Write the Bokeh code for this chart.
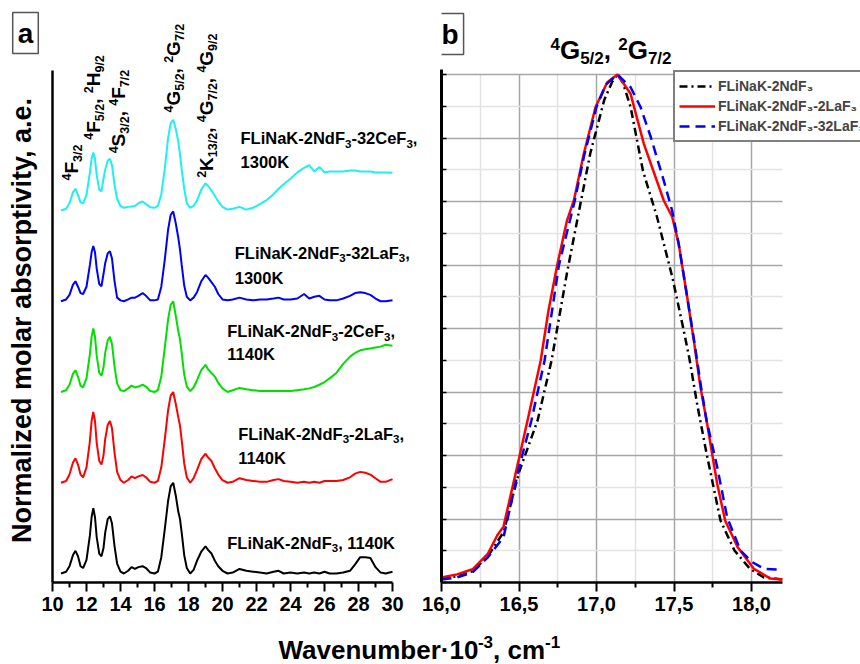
import math
import re
from bokeh.plotting import figure
from bokeh.models import Label, Legend, LegendItem, FixedTicker, Range1d
from bokeh.layouts import row, column
from bokeh.embed import file_html
from bokeh.resources import INLINE

# ---------------- data: panel a (stacked spectra) ----------------
WN_A = [
    10.5, 10.8, 11.0, 11.2, 11.35, 11.5, 11.65, 11.8, 12.0, 12.2,
    12.3, 12.4, 12.5, 12.6, 12.75, 12.88, 13.0, 13.1, 13.25, 13.38,
    13.5, 13.65, 13.8, 14.0, 14.2, 14.45, 14.65, 14.85, 15.05, 15.3,
    15.5, 15.75, 16.0, 16.2, 16.4, 16.6, 16.8, 16.95, 17.1, 17.25,
    17.4, 17.5, 17.6, 17.75, 17.9, 18.1, 18.3, 18.5, 18.75, 19.0,
    19.15, 19.35, 19.55, 19.75, 20.0, 20.3, 20.6, 21.0, 21.4, 21.8,
    22.2, 22.6, 23.0, 23.3, 23.6, 24.0, 24.4, 24.8, 25.1, 25.4,
    25.7, 26.0, 26.3, 26.7, 27.1, 27.5, 27.8, 28.1, 28.4, 28.7,
    29.0, 29.3, 29.6, 30.0,
]
ABS_NDF3 = [
    0.00, 0.02, 0.08, 0.20, 0.25, 0.19, 0.08, 0.06, 0.15, 0.42,
    0.62, 0.72, 0.62, 0.40, 0.22, 0.19, 0.28, 0.45, 0.60, 0.63,
    0.55, 0.30, 0.11, 0.02, 0.00, 0.03, 0.07, 0.05, 0.07, 0.08,
    0.06, 0.01, 0.00, 0.02, 0.18, 0.48, 0.80, 0.96, 1.00, 0.86,
    0.68, 0.60, 0.45, 0.20, 0.06, 0.00, 0.04, 0.14, 0.24, 0.30,
    0.26, 0.22, 0.14, 0.08, 0.03, 0.00, 0.01, 0.05, 0.03, 0.02,
    0.01, 0.00, 0.02, 0.03, 0.00, 0.01, 0.00, 0.01, 0.00, 0.01,
    0.00, 0.02, 0.00, 0.00, 0.01, 0.03, 0.10, 0.18, 0.18, 0.17,
    0.07, 0.01, 0.00, 0.02,
]
ABS_2LAF3 = [
    0.00, 0.02, 0.09, 0.22, 0.27, 0.20, 0.09, 0.06, 0.17, 0.46,
    0.68, 0.78, 0.68, 0.44, 0.24, 0.20, 0.30, 0.48, 0.64, 0.68,
    0.60, 0.33, 0.12, 0.03, 0.00, 0.03, 0.07, 0.05, 0.07, 0.085,
    0.06, 0.01, 0.00, 0.02, 0.17, 0.47, 0.80, 0.96, 1.00, 0.87,
    0.72, 0.63, 0.47, 0.21, 0.06, 0.00, 0.05, 0.14, 0.26, 0.32,
    0.28, 0.24, 0.16, 0.09, 0.03, 0.00, 0.01, 0.05, 0.03, 0.02,
    0.01, 0.01, 0.03, 0.04, 0.02, 0.01, 0.00, 0.01, 0.00, 0.01,
    0.00, 0.02, 0.02, 0.02, 0.03, 0.06, 0.10, 0.12, 0.11, 0.09,
    0.05, 0.01, 0.01, 0.04,
]
ABS_2CEF3 = [
    0.00, 0.02, 0.08, 0.20, 0.24, 0.17, 0.07, 0.05, 0.15, 0.42,
    0.61, 0.70, 0.61, 0.40, 0.21, 0.18, 0.27, 0.43, 0.57, 0.61,
    0.53, 0.28, 0.095, 0.02, 0.01, 0.04, 0.07, 0.05, 0.06, 0.08,
    0.06, 0.01, 0.00, 0.02, 0.17, 0.48, 0.80, 0.96, 1.00, 0.84,
    0.67, 0.58, 0.43, 0.19, 0.06, 0.01, 0.05, 0.13, 0.24, 0.30,
    0.25, 0.21, 0.17, 0.10, 0.04, 0.00, 0.02, 0.045, 0.03, 0.02,
    0.01, 0.01, 0.01, 0.01, 0.01, 0.01, 0.02, 0.03, 0.04, 0.055,
    0.08, 0.11, 0.15, 0.21, 0.31, 0.39, 0.43, 0.46, 0.47, 0.48,
    0.49, 0.50, 0.52, 0.51,
]
ABS_32LAF3 = [
    0.00, 0.02, 0.07, 0.18, 0.22, 0.16, 0.09, 0.08, 0.16, 0.40,
    0.54, 0.61, 0.54, 0.36, 0.19, 0.165, 0.30, 0.42, 0.53, 0.55,
    0.47, 0.22, 0.04, 0.01, 0.00, 0.02, 0.04, 0.04, 0.06, 0.09,
    0.06, 0.01, 0.01, 0.02, 0.16, 0.45, 0.79, 0.95, 0.99, 0.86,
    0.70, 0.57, 0.40, 0.17, 0.05, 0.01, 0.04, 0.10, 0.22, 0.29,
    0.26, 0.21, 0.16, 0.08, 0.02, 0.01, 0.02, 0.04, 0.02, 0.01,
    0.02, 0.02, 0.03, 0.04, 0.02, 0.02, 0.03, 0.08, 0.03, 0.05,
    0.06, 0.02, 0.01, 0.01, 0.03, 0.06, 0.09, 0.10, 0.09, 0.07,
    0.03, 0.00, 0.00, 0.01,
]
ABS_32CEF3 = [
    0.00, 0.02, 0.08, 0.20, 0.24, 0.17, 0.09, 0.08, 0.17, 0.42,
    0.57, 0.64, 0.57, 0.39, 0.23, 0.21, 0.35, 0.45, 0.55, 0.57,
    0.50, 0.28, 0.13, 0.05, 0.03, 0.04, 0.045, 0.05, 0.08, 0.10,
    0.07, 0.036, 0.03, 0.05, 0.18, 0.45, 0.80, 0.96, 1.00, 0.90,
    0.76, 0.62, 0.45, 0.24, 0.08, 0.03, 0.05, 0.11, 0.23, 0.30,
    0.27, 0.22, 0.16, 0.10, 0.04, 0.01, 0.02, 0.04, 0.01, 0.03,
    0.07, 0.115, 0.18, 0.24, 0.29, 0.35, 0.42, 0.47, 0.50, 0.43,
    0.48, 0.42, 0.43, 0.43, 0.43, 0.44, 0.44, 0.43, 0.43, 0.43,
    0.42, 0.42, 0.42, 0.415,
]
SERIES_A = [ABS_NDF3, ABS_2LAF3, ABS_2CEF3, ABS_32LAF3, ABS_32CEF3]
STACK_OFFSET_A = [0, 1, 2, 3, 4]
COLORS_A = ["#000000", "#ff0000", "#00e000", "#0000ff", "#1ef0f0"]
SAMPLE_TEXT_A = [
    "FLiNaK-2NdF_{3}, 1140K",
    "FLiNaK-2NdF_{3}-2LaF_{3},", "1140K",
    "FLiNaK-2NdF_{3}-2CeF_{3},", "1140K",
    "FLiNaK-2NdF_{3}-32LaF_{3},", "1300K",
    "FLiNaK-2NdF_{3}-32CeF_{3},", "1300K",
]
TRANSITIONS_A = [
    "^{4}F_{3/2}",
    "^{4}F_{5/2}, ^{2}H_{9/2}",
    "^{4}S_{3/2}, ^{4}F_{7/2}",
    "^{4}G_{5/2}, ^{2}G_{7/2}",
    "^{2}K_{13/2}, ^{4}G_{7/2}, ^{4}G_{9/2}",
]
TICKS_A = [10, 12, 14, 16, 18, 20, 22, 24, 26, 28, 30]
MINOR_TICKS_A = [11, 13, 15, 17, 19, 21, 23, 25, 27, 29]

# ---------------- data: panel b (4G5/2, 2G7/2 band) ----------------
WN_B_NDF3 = [16.0, 16.1, 16.2, 16.3, 16.4, 16.5, 16.62, 16.71, 16.81, 16.88,
             16.96, 17.05, 17.10, 17.135, 17.17, 17.22, 17.30, 17.39, 17.49, 17.56,
             17.60, 17.65, 17.71, 17.80, 17.89, 17.99, 18.08, 18.2]
AB_B_NDF3 = [0.008, 0.012, 0.022, 0.052, 0.099, 0.217, 0.319, 0.437, 0.61, 0.72,
             0.845, 0.95, 0.985, 1.0, 0.984, 0.936, 0.81, 0.72, 0.60, 0.50,
             0.44, 0.35, 0.254, 0.122, 0.063, 0.027, 0.01, 0.006]
WN_B_2LAF3 = [16.0, 16.1, 16.2, 16.3, 16.36, 16.4, 16.5, 16.555, 16.64, 16.69,
              16.746, 16.81, 16.854, 16.918, 16.994, 17.07, 17.135, 17.22, 17.305, 17.434,
              17.488, 17.53, 17.585, 17.628, 17.671, 17.71, 17.779, 17.83, 17.91, 18.015,
              18.12, 18.2]
AB_B_2LAF3 = [0.01, 0.016, 0.026, 0.057, 0.093, 0.11, 0.244, 0.319, 0.437, 0.535,
              0.624, 0.713, 0.752, 0.844, 0.936, 0.985, 1.0, 0.962, 0.864, 0.752,
              0.72, 0.667, 0.562, 0.476, 0.384, 0.319, 0.194, 0.122, 0.07, 0.027,
              0.008, 0.006]
WN_B_32LAF3 = [16.0, 16.1, 16.2, 16.3, 16.4, 16.5, 16.58, 16.665, 16.757, 16.86,
               16.92, 17.0, 17.06, 17.135, 17.22, 17.284, 17.35, 17.434, 17.488, 17.53,
               17.585, 17.63, 17.675, 17.71, 17.779, 17.843, 17.929, 18.005, 18.08, 18.2]
AB_B_32LAF3 = [0.006, 0.01, 0.02, 0.05, 0.089, 0.226, 0.319, 0.437, 0.624, 0.752,
               0.84, 0.936, 0.98, 1.0, 0.975, 0.936, 0.877, 0.791, 0.732, 0.667,
               0.562, 0.476, 0.384, 0.319, 0.227, 0.128, 0.063, 0.04, 0.027, 0.025]
LEGEND_B = ["FLiNaK-2NdF\u2083", "FLiNaK-2NdF\u2083-2LaF\u2083", "FLiNaK-2NdF\u2083-32LaF\u2083"]
TITLE_B = "^{4}G_{5/2}, ^{2}G_{7/2}"
TICKS_B = [16.0, 16.5, 17.0, 17.5, 18.0]
TICK_LABELS_B = ["16,0", "16,5", "17,0", "17,5", "18,0"]
MINOR_TICKS_B = [16.25, 16.75, 17.25, 17.75]
YTICKS_B = [0.0, 0.125, 0.25, 0.375, 0.5, 0.625, 0.75, 0.875, 1.0]
YMINOR_B = [0.0625, 0.1875, 0.3125, 0.4375, 0.5625, 0.6875, 0.8125, 0.9375]

X_TITLE = "Wavenumber\u00b710^{-3}, cm^{-1}"
Y_TITLE = "Normalized molar absorptivity, a.e."

# ---------------- text helpers ----------------
FONT = "Liberation Sans"
BASE_FIX = 0.38   # Label draws alphabetic text this many em lower; compensate
ADV = {"W": 944, "F": 611, "G": 778, "H": 722, "K": 722, "S": 667, "L": 611, "N": 722,
       "C": 722, "a": 556, "b": 611, "c": 556, "d": 611, "e": 556, "i": 278, "k": 556,
       "m": 889, "n": 611, "r": 389, "u": 611, "v": 556, "/": 278, ",": 278, " ": 278,
       "-": 333, "\u00b7": 278, ".": 278, "l": 278, "o": 611, "z": 500, "s": 556,
       "p": 611, "t": 333, "y": 556}


def tw(text, size):
    return sum(ADV.get(c, 556) for c in text) / 1000.0 * size


def parse(markup):
    out = []
    for m in re.finditer(r"\^\{([^}]*)\}|_\{([^}]*)\}|([^\^_]+)", markup):
        if m.group(1) is not None:
            out.append((m.group(1), "sup"))
        elif m.group(2) is not None:
            out.append((m.group(2), "sub"))
        else:
            out.append((m.group(3), "n"))
    return out


def rich(p, markup, x, y, size, small, rise, drop, angle=0.0):
    d = 0.0
    ca, sa = math.cos(angle), math.sin(angle)
    for text, kind in parse(markup):
        fs = size if kind == "n" else small
        perp = rise if kind == "sup" else (-drop if kind == "sub" else 0.0)
        perp += BASE_FIX * fs
        dx = d * ca - perp * sa
        dy = d * sa + perp * ca
        p.add_layout(Label(x=x, y=y, x_offset=round(dx, 2), y_offset=round(dy, 2),
                           text=text, angle=angle, text_font=FONT,
                           text_font_style="bold", text_font_size=f"{fs}px",
                           text_color="black", text_align="left",
                           text_baseline="alphabetic"))
        d += tw(text, fs)


def boxed_letter(p, letter, x, y):
    p.add_layout(Label(x=x, y=y, y_offset=3, text=letter, text_font=FONT,
                       text_font_style="bold", text_font_size="28px", text_color="black",
                       text_align="center", text_baseline="middle",
                       border_line_color="#555555", border_line_width=1.5,
                       background_fill_color="white", padding=5))


def style_xaxis(ax, ticks, minor):
    ax.ticker = FixedTicker(ticks=ticks, minor_ticks=minor)
    ax.axis_line_width = 2.5
    ax.axis_line_color = "black"
    ax.major_tick_line_width = 2
    ax.minor_tick_line_width = 2
    ax.major_tick_line_color = "black"
    ax.minor_tick_line_color = "black"
    ax.major_tick_out = 9
    ax.major_tick_in = 0
    ax.minor_tick_out = 5
    ax.minor_tick_in = 0
    ax.major_label_text_font = FONT
    ax.major_label_text_font_style = "bold"
    ax.major_label_text_font_size = "20px"
    ax.major_label_text_color = "black"
    ax.major_label_standoff = 5


H_TOP = 622
TOP_B, BOT_B = 10, 40   # common top / bottom borders of the three upper canvases

# ---------------- left strip: panel letter + y title ----------------
pl = figure(width=40, height=H_TOP, x_range=Range1d(0, 40), y_range=Range1d(0, H_TOP - TOP_B - BOT_B),
            toolbar_location=None, output_backend="svg", title=None,
            min_border_left=0, min_border_right=0, min_border_top=TOP_B, min_border_bottom=BOT_B,
            x_axis_location=None, y_axis_location=None)
pl.outline_line_color = None
pl.grid.visible = False
boxed_letter(pl, "a", 25, 546.5)
rich(pl, Y_TITLE, 32, 39.4, 27, 27, 0, 0, angle=math.pi / 2)

# ---------------- panel a ----------------
pa = figure(width=379, height=H_TOP, x_range=Range1d(10, 31.588), y_range=Range1d(-0.0992, 6.204),
            toolbar_location=None, output_backend="svg", title=None,
            min_border_left=12, min_border_right=0, min_border_top=TOP_B, min_border_bottom=BOT_B)
pa.outline_line_color = None
pa.grid.visible = False
style_xaxis(pa.xaxis[0], TICKS_A, MINOR_TICKS_A)
pa.xaxis.bounds = (10, 30)
pa.yaxis.ticker = FixedTicker(ticks=[])
pa.yaxis.axis_line_color = "black"
pa.yaxis.axis_line_width = 2.5
pa.yaxis.major_tick_out = 0
pa.yaxis.minor_tick_out = 0
pa.yaxis.major_label_standoff = 0
pa.yaxis.bounds = (-0.0992, 5.543)

for vals, off, col in zip(SERIES_A, STACK_OFFSET_A, COLORS_A):
    pa.line(WN_A, [v + off for v in vals], line_color=col, line_width=2)

SAMPLE_POS_A = [(20.28, 0.272), (20.92, 1.473), (20.92, 1.209), (20.28, 2.604), (20.28, 2.347),
                (20.72, 3.468), (20.72, 3.19), (21.06, 4.727), (21.06, 4.467)]
for txt, (lx, ly) in zip(SAMPLE_TEXT_A, SAMPLE_POS_A):
    rich(pa, txt, lx, ly, 16.5, 11.5, 6, 4)

TRANS_POS_A = [(11.53, 4.33), (12.82, 4.78), (14.29, 4.63), (17.53, 5.08), (19.47, 4.36)]
for txt, (lx, ly) in zip(TRANSITIONS_A, TRANS_POS_A):
    rich(pa, txt, lx, ly, 19, 12.5, 7, 4, angle=math.pi / 2)

# ---------------- panel b ----------------
pb = figure(width=441, height=H_TOP, x_range=Range1d(16.0, 18.7032), y_range=Range1d(0, 1.126),
            toolbar_location=None, output_backend="svg", title=None,
            min_border_left=22, min_border_right=0, min_border_top=TOP_B, min_border_bottom=BOT_B)
pb.outline_line_color = None
style_xaxis(pb.xaxis[0], TICKS_B, MINOR_TICKS_B)
pb.xaxis.bounds = (16.0, 18.2)
pb.xaxis.major_label_overrides = dict(zip(TICKS_B, TICK_LABELS_B))
pb.yaxis.ticker = FixedTicker(ticks=YTICKS_B, minor_ticks=YMINOR_B)
pb.yaxis.major_label_overrides = {t: "" for t in YTICKS_B}
pb.yaxis.axis_line_color = "black"
pb.yaxis.axis_line_width = 3
pb.yaxis.bounds = (0.0, 1.01)
pb.yaxis.major_tick_in = 5
pb.yaxis.minor_tick_in = 5
pb.yaxis.major_tick_out = 0
pb.yaxis.minor_tick_out = 0
pb.yaxis.major_label_standoff = 0
pb.yaxis.major_tick_line_width = 1.5
pb.yaxis.minor_tick_line_width = 1.5
for g in (pb.xgrid, pb.ygrid):
    g.grid_line_color = "#a6a6a6"
    g.grid_line_width = 1.5
    g.minor_grid_line_color = "#e2e2e2"
    g.minor_grid_line_width = 1.5
pb.ygrid.bounds = (0.0, 1.0)
try:
    pb.xgrid.cross_bounds = (0.0, 1.0)
    pb.ygrid.cross_bounds = (16.0, 18.2)
except AttributeError:
    pb.quad(left=[18.2], right=[18.71], bottom=[-0.01], top=[1.0],
            fill_color="white", line_color=None)
    pb.quad(left=[15.99], right=[18.71], bottom=[1.0], top=[1.13],
            fill_color="white", line_color=None)

r1 = pb.line(WN_B_NDF3, AB_B_NDF3, line_color="black", line_width=2.5, line_dash="8 4 2 4")
r2 = pb.line(WN_B_2LAF3, AB_B_2LAF3, line_color="#ff0000", line_width=2.5)
r3 = pb.line(WN_B_32LAF3, AB_B_32LAF3, line_color="#0000ff", line_width=2.5, line_dash="10 6")

legend = Legend(items=[LegendItem(label=LEGEND_B[0], renderers=[r1]),
                       LegendItem(label=LEGEND_B[1], renderers=[r2]),
                       LegendItem(label=LEGEND_B[2], renderers=[r3])],
                location=(232, 440))
legend.border_line_color = "black"
legend.border_line_width = 2
legend.background_fill_color = "white"
legend.background_fill_alpha = 1.0
legend.label_text_font = FONT
legend.label_text_font_style = "bold"
legend.label_text_font_size = "14px"
legend.glyph_width = 36
legend.glyph_height = 20
legend.label_height = 20
legend.spacing = 0
legend.padding = 4
legend.margin = 0
legend.label_standoff = 3
pb.add_layout(legend)

rich(pb, TITLE_B, 16.703, 1.028, 26, 17, 10, 5)
boxed_letter(pb, "b", 16.055, 1.0738)

# ---------------- shared x-axis title ----------------
pt = figure(width=860, height=42, x_range=Range1d(0, 860), y_range=Range1d(0, 42),
            toolbar_location=None, output_backend="svg", min_border=0, title=None,
            x_axis_location=None, y_axis_location=None)
pt.outline_line_color = None
pt.grid.visible = False
rich(pt, X_TITLE, 278, 5, 26, 17, 11, 0)

layout = column(row(pl, pa, pb), pt)
open("out.html", "w").write(file_html(layout, INLINE))
